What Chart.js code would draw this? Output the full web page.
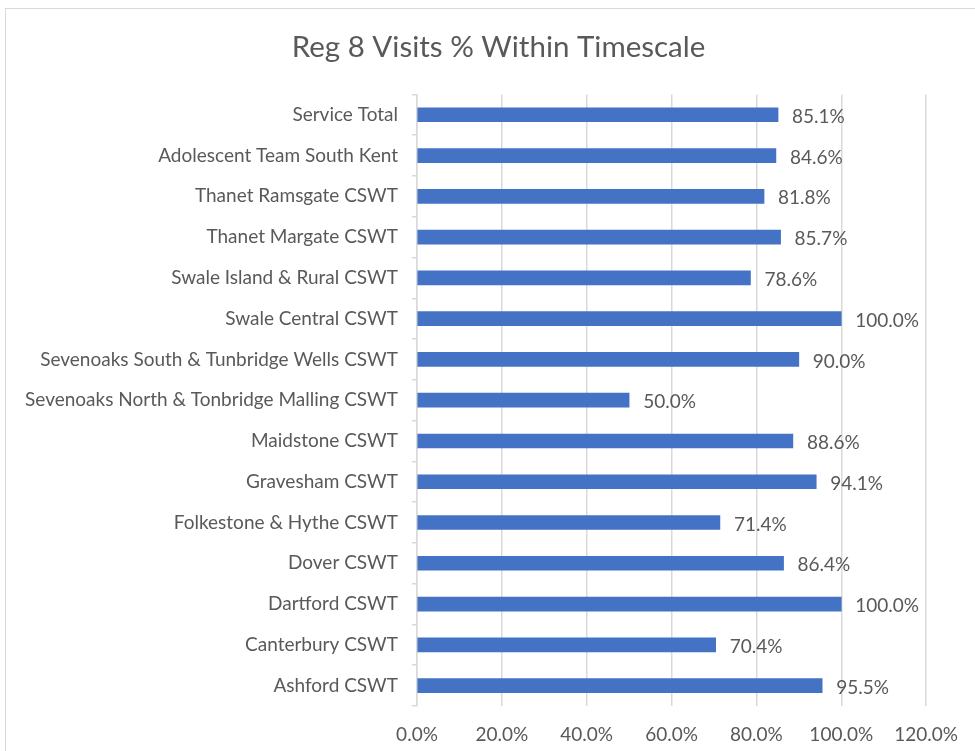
<!DOCTYPE html>
<html lang="en">
  <head>
    <meta charset="UTF-8" />
    <title>Reg 8 Visits % Within Timescale</title>
    <script src="https://cdn.jsdelivr.net/npm/chart.js"></script>
    <style>
      html, body { margin: 0; padding: 0; background: #fff; overflow: hidden; }
      .moldura {
        position: absolute; left: 5px; top: 8px; width: 990px; height: 760px;
        border: 1px solid #d9d9d9; box-sizing: border-box;
      }
      .area { position: absolute; left: 0; top: 0; width: 975px; height: 751px; }
    </style>
  </head>
  <body>
    <div class="moldura"></div>
    <div class="area"><canvas id="grafico"></canvas></div>
  </body>
</html>

<script>
  const equipes = [
    "Service Total",
    "Adolescent Team South Kent",
    "Thanet Ramsgate CSWT",
    "Thanet Margate CSWT",
    "Swale Island & Rural CSWT",
    "Swale Central CSWT",
    "Sevenoaks South & Tunbridge Wells CSWT",
    "Sevenoaks North & Tonbridge Malling CSWT",
    "Maidstone CSWT",
    "Gravesham CSWT",
    "Folkestone & Hythe CSWT",
    "Dover CSWT",
    "Dartford CSWT",
    "Canterbury CSWT",
    "Ashford CSWT",
  ];
  const percentuais = [85.1, 84.6, 81.8, 85.7, 78.6, 100.0, 90.0, 50.0, 88.6, 94.1, 71.4, 86.4, 100.0, 70.4, 95.5];
  const ticksX = [0, 20, 40, 60, 80, 100, 120];

  const fonte = "Lato, 'Open Sans', sans-serif";
  const cinza = "#595959";

  // rotulos de valor ao lado de cada barra
  const rotulos = {
    id: "rotulos",
    afterLayout(chart) {
      // titulo centrado como no original (um pouco a direita)
      chart.titleBlock.left = 66;
    },
    afterDatasetsDraw(chart) {
      const ctx = chart.ctx;
      const meta = chart.getDatasetMeta(0);
      ctx.save();
      ctx.font = "19px " + fonte;
      ctx.fillStyle = cinza;
      ctx.textAlign = "left";
      ctx.textBaseline = "middle";
      meta.data.forEach((barra, i) => {
        ctx.fillText(percentuais[i].toFixed(1) + "%", barra.x + 14, barra.y + 2);
      });
      ctx.restore();
    },
  };

  new Chart(document.getElementById("grafico"), {
    type: "bar",
    data: {
      labels: equipes,
      datasets: [
        {
          label: "Reg 8 Visits % Within Timescale",
          data: percentuais,
          backgroundColor: "#4472C4",
          barThickness: 14,
        },
      ],
    },
    options: {
      indexAxis: "y",
      responsive: true,
      maintainAspectRatio: false,
      animation: false,
      layout: { padding: { left: 0, right: 44, top: 0, bottom: 0 } },
      scales: {
        x: {
          min: 0,
          max: 120,
          afterBuildTicks: (eixo) => {
            eixo.ticks = ticksX.map((v) => ({ value: v }));
          },
          afterFit: (eixo) => {
            eixo.height = 45;
          },
          grid: { color: "#d9d9d9", lineWidth: 1.5, drawTicks: false },
          border: { display: false },
          ticks: {
            padding: 17,
            color: cinza,
            font: { family: fonte, size: 19 },
            callback: (v) => Number(v).toFixed(1) + "%",
          },
        },
        y: {
          afterFit: (eixo) => {
            eixo.width = 417;
          },
          grid: {
            drawOnChartArea: false,
            drawTicks: true,
            tickLength: 5,
            color: "#d9d9d9",
            lineWidth: 1.5,
          },
          border: { display: true, color: "#d9d9d9", width: 1.5 },
          ticks: {
            padding: 14,
            color: cinza,
            font: { family: fonte, size: 19 },
          },
        },
      },
      plugins: {
        legend: { display: false },
        tooltip: { enabled: false },
        title: {
          display: true,
          text: "Reg 8 Visits % Within Timescale",
          color: cinza,
          font: { family: fonte, size: 29.5, weight: "normal" },
          padding: { top: 30, bottom: 29 },
        },
      },
    },
    plugins: [rotulos],
  });
</script>
